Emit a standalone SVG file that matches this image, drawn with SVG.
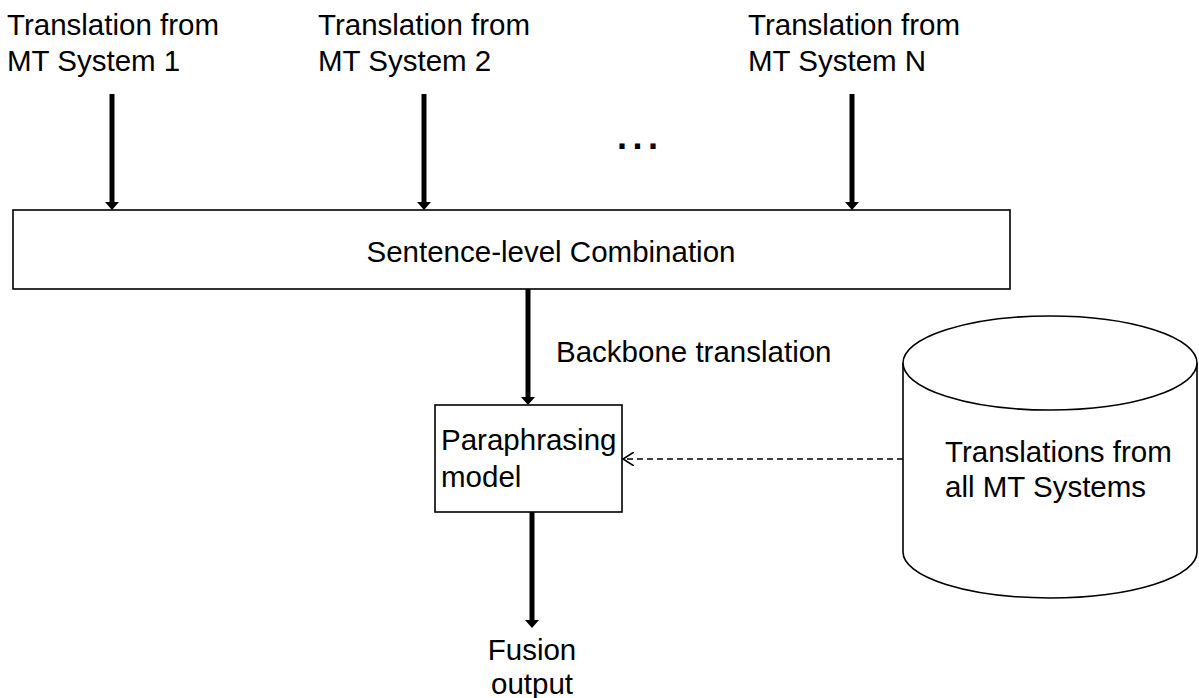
<svg xmlns="http://www.w3.org/2000/svg" width="1199" height="698" viewBox="0 0 1199 698">
  <style>
    .lbl { font-family: "Liberation Sans", Arial, sans-serif; font-size: 29.5px; fill: #000; }
    .box { fill: #fff; stroke: #000; stroke-width: 1.6; }
    .thick { stroke: #000; stroke-width: 5; fill: none; }
    .dash { stroke: #000; stroke-width: 1.6; stroke-dasharray: 6 4; fill: none; }
  </style>
  <defs>
    <!-- solid head: 8 long, 14 wide, placed past the shaft end -->
    <marker id="head" viewBox="0 0 8 14" refX="0" refY="7" markerWidth="8" markerHeight="14" markerUnits="userSpaceOnUse" orient="auto">
      <path d="M0,0 L8,7 L0,14 Z" fill="#000"/>
    </marker>
    <marker id="open" viewBox="0 0 12 14" refX="11" refY="7" markerWidth="12" markerHeight="14" markerUnits="userSpaceOnUse" orient="auto">
      <path d="M0,0 L11,7 L0,14" fill="none" stroke="#000" stroke-width="1.6"/>
    </marker>
  </defs>

  <!-- input labels -->
  <g id="src1">
    <text class="lbl" x="7" y="35">Translation from</text>
    <text class="lbl" x="7" y="71">MT System 1</text>
  </g>
  <g id="src2">
    <text class="lbl" x="318" y="35">Translation from</text>
    <text class="lbl" x="318" y="71">MT System 2</text>
  </g>
  <g id="srcN">
    <text class="lbl" x="748" y="35">Translation from</text>
    <text class="lbl" x="748" y="71">MT System N</text>
  </g>
  <g id="ellipsis">
    <text x="617" y="149" font-family="Liberation Sans, Arial, sans-serif" font-size="36" font-weight="bold" letter-spacing="5.5">...</text>
  </g>

  <!-- combination stage -->
  <g id="combination">
    <rect class="box" x="13" y="210" width="997" height="79"/>
    <text class="lbl" x="551" y="262" text-anchor="middle">Sentence-level Combination</text>
  </g>

  <g id="backbone-label">
    <text class="lbl" x="556" y="362">Backbone translation</text>
  </g>

  <!-- paraphrasing model -->
  <g id="paraphrase">
    <rect class="box" x="435" y="405" width="187" height="107"/>
    <text class="lbl" x="441" y="450">Paraphrasing</text>
    <text class="lbl" x="441" y="487">model</text>
  </g>

  <!-- translation store -->
  <g id="store">
    <path class="box" d="M903,363 L903,552 A147,46 0 0 0 1197,552 L1197,363"/>
    <ellipse class="box" cx="1050" cy="363" rx="147" ry="47"/>
    <text class="lbl" x="945" y="462">Translations from</text>
    <text class="lbl" x="945" y="497">all MT Systems</text>
  </g>

  <g id="fusion">
    <text class="lbl" x="532" y="660" text-anchor="middle">Fusion</text>
    <text class="lbl" x="532" y="694" text-anchor="middle">output</text>
  </g>

  <!-- connectors -->
  <g id="connectors">
    <line class="thick" x1="112" y1="94" x2="112" y2="202" marker-end="url(#head)"/>
    <line class="thick" x1="424" y1="94" x2="424" y2="202" marker-end="url(#head)"/>
    <line class="thick" x1="852" y1="94" x2="852" y2="202" marker-end="url(#head)"/>
    <line class="thick" x1="528" y1="289" x2="528" y2="397" marker-end="url(#head)"/>
    <line class="thick" x1="532" y1="512" x2="532" y2="620" marker-end="url(#head)"/>
    <line class="dash" x1="903" y1="459" x2="623" y2="459" marker-end="url(#open)"/>
  </g>
</svg>
